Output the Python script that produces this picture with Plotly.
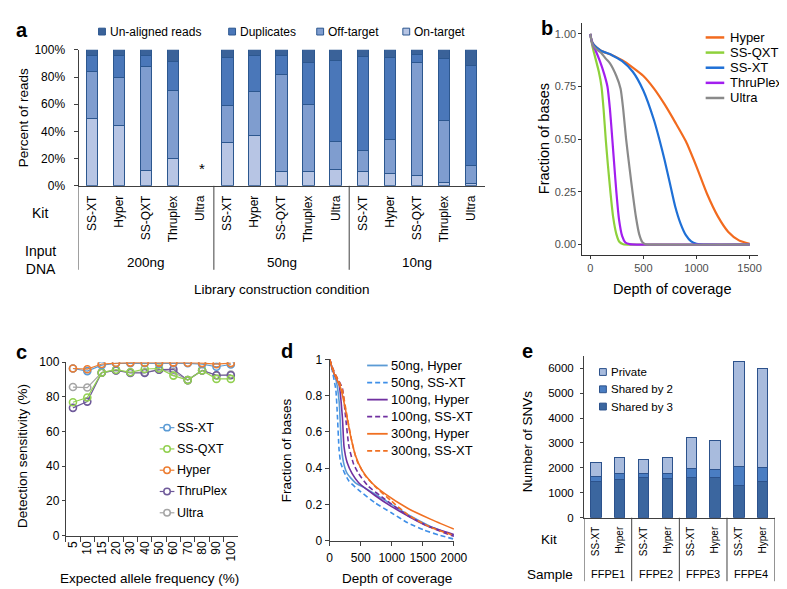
import plotly.graph_objects as go

W, H = 787, 589
FONT = "Liberation Sans, Arial, sans-serif"
AX = "#404040"


def fx(x):
    return x / W


def fy(y):
    return 1 - y / H


# ---------------- Panel a data ----------------
kits_a = ["SS-XT", "Hyper", "SS-QXT", "Thruplex", "Ultra"]
inputs_a = ["200ng", "50ng", "10ng"]
on_target = [49.3, 44.3, 11.0, 19.9, None, 31.8, 37.1, 10.3, 10.3, 12.0, 10.5, 9.3, 7.7, 2.6, 1.9]
off_target = [35.1, 35.4, 77.0, 50.2, None, 27.3, 32.5, 71.8, 49.7, 20.5, 15.8, 25.1, 83.2, 45.7, 12.7]
duplicates = [11.3, 16.0, 7.7, 21.5, None, 35.4, 26.1, 13.6, 30.7, 59.4, 68.9, 60.3, 5.5, 45.5, 74.2]
unaligned = [4.3, 4.3, 4.3, 8.4, None, 5.5, 4.3, 4.3, 9.3, 8.1, 4.8, 5.3, 3.6, 6.2, 11.2]
a_series = ["Un-aligned reads", "Duplicates", "Off-target", "On-target"]
a_colors = ["#3A6299", "#4A77B9", "#7F9DCF", "#B7C5E4"]

# ---------------- Panel b data ----------------
b_names = ["Hyper", "SS-QXT", "SS-XT", "ThruPlex", "Ultra"]
b_colors = ["#F26B1F", "#8ED13B", "#1F70D6", "#A21EEF", "#8A8A8A"]
b_hyper_x = [0, 10, 30, 60, 100, 200, 300, 400, 500, 600, 700, 800, 900, 1000, 1100, 1200, 1300, 1400, 1500]
b_hyper_y = [1.0, 0.97, 0.95, 0.935, 0.92, 0.9, 0.875, 0.84, 0.80, 0.74, 0.665, 0.58, 0.49, 0.37, 0.24, 0.135, 0.06, 0.02, 0.004]
b_ssqxt_x = [0, 20, 50, 80, 105, 125, 145, 165, 189, 215, 245, 275, 310, 400, 1500]
b_ssqxt_y = [1.0, 0.94, 0.88, 0.82, 0.75, 0.64, 0.5, 0.38, 0.25, 0.13, 0.05, 0.012, 0.002, 0.0, 0.0]
b_ssxt_x = [0, 10, 30, 60, 100, 200, 300, 400, 500, 600, 650, 700, 750, 800, 850, 900, 950, 1000, 1100, 1500]
b_ssxt_y = [1.0, 0.97, 0.95, 0.935, 0.92, 0.9, 0.87, 0.82, 0.73, 0.59, 0.5, 0.4, 0.29, 0.18, 0.1, 0.045, 0.015, 0.004, 0.0, 0.0]
b_thru_x = [0, 20, 50, 90, 130, 161, 185, 207, 225, 245, 270, 300, 330, 370, 450, 1500]
b_thru_y = [1.0, 0.95, 0.92, 0.87, 0.81, 0.75, 0.64, 0.5, 0.38, 0.25, 0.12, 0.04, 0.01, 0.002, 0.0, 0.0]
b_ultra_x = [0, 20, 50, 100, 150, 185, 245, 285, 310, 337, 370, 400, 430, 460, 490, 520, 600, 1500]
b_ultra_y = [1.0, 0.95, 0.93, 0.91, 0.88, 0.86, 0.80, 0.74, 0.64, 0.5, 0.36, 0.24, 0.13, 0.05, 0.012, 0.002, 0.0, 0.0]
b_x = [b_hyper_x, b_ssqxt_x, b_ssxt_x, b_thru_x, b_ultra_x]
b_y = [b_hyper_y, b_ssqxt_y, b_ssxt_y, b_thru_y, b_ultra_y]

# ---------------- Panel c data ----------------
freq_c = ["5", "10", "15", "20", "30", "40", "50", "60", "70", "80", "90", "100"]
c_names = ["SS-XT", "SS-QXT", "Hyper", "ThruPlex", "Ultra"]
c_colors = ["#5B9BD5", "#92D050", "#ED7D31", "#6F5A9A", "#A5A5A5"]
c_ssxt = [96.4, 94.9, 98.3, 99.4, 99.4, 99.4, 99.1, 99.4, 99.4, 98.9, 97.4, 98.7]
c_ssqxt = [76.9, 79.7, 94.0, 95.7, 94.2, 96.1, 96.4, 92.3, 89.7, 95.3, 90.4, 90.4]
c_hyper = [96.4, 96.0, 99.0, 99.6, 99.8, 99.7, 99.8, 99.8, 99.7, 99.5, 98.9, 99.5]
c_thru = [73.7, 77.3, 94.0, 95.3, 93.8, 93.8, 95.7, 95.9, 89.7, 95.3, 92.5, 92.5]
c_ultra = [85.7, 85.4, 94.0, 95.3, 94.2, 94.2, 95.7, 94.4, 89.7, 95.3, 92.5, 92.9]
c_vals = [c_ssxt, c_ssqxt, c_hyper, c_thru, c_ultra]

# ---------------- Panel d data ----------------
d_names = ["50ng, Hyper", "50ng, SS-XT", "100ng, Hyper", "100ng, SS-XT", "300ng, Hyper", "300ng, SS-XT"]
d_colors = ["#5B9BD5", "#3F8FE8", "#7030A0", "#7030A0", "#F07022", "#F07022"]
d_dash = ["solid", "5px,3px", "solid", "5px,3px", "solid", "5px,3px"]
d_50h_x = [0, 50, 100, 152, 194, 231, 283, 415, 572, 861, 1255, 1622, 2000]
d_50h_y = [1.0, 0.94, 0.89, 0.77, 0.5, 0.42, 0.37, 0.32, 0.29, 0.23, 0.145, 0.08, 0.03]
d_50s_x = [0, 47, 100, 126, 152, 178, 231, 310, 467, 730, 992, 1255, 1517, 1780, 2000]
d_50s_y = [1.0, 0.93, 0.83, 0.68, 0.5, 0.43, 0.38, 0.33, 0.28, 0.21, 0.155, 0.10, 0.06, 0.03, 0.01]
d_100h_x = [0, 50, 100, 152, 205, 231, 283, 362, 467, 730, 992, 1517, 2000]
d_100h_y = [1.0, 0.94, 0.9, 0.86, 0.68, 0.52, 0.43, 0.37, 0.32, 0.25, 0.19, 0.09, 0.035]
d_100s_x = [0, 50, 100, 150, 205, 257, 310, 388, 467, 625, 887, 1255, 1622, 2000]
d_100s_y = [1.0, 0.95, 0.91, 0.88, 0.84, 0.68, 0.52, 0.42, 0.37, 0.30, 0.23, 0.14, 0.075, 0.025]
d_300h_x = [0, 50, 100, 178, 257, 336, 415, 520, 677, 887, 1255, 1622, 2000]
d_300h_y = [1.0, 0.94, 0.9, 0.84, 0.72, 0.58, 0.47, 0.39, 0.32, 0.26, 0.18, 0.12, 0.065]
d_300s_x = [0, 50, 100, 150, 205, 283, 362, 441, 572, 730, 992, 1255, 1622, 2000]
d_300s_y = [1.0, 0.95, 0.91, 0.88, 0.83, 0.68, 0.54, 0.44, 0.36, 0.30, 0.22, 0.145, 0.075, 0.03]
d_x = [d_50h_x, d_50s_x, d_100h_x, d_100s_x, d_300h_x, d_300s_x]
d_y = [d_50h_y, d_50s_y, d_100h_y, d_100s_y, d_300h_y, d_300s_y]

# ---------------- Panel e data ----------------
samples_e = ["FFPE1", "FFPE2", "FFPE3", "FFPE4"]
kits_e = ["SS-XT", "Hyper"]
shared3 = [1435, 1526, 1604, 1565, 1604, 1604, 1304, 1474]
shared2 = [235, 235, 183, 222, 379, 326, 757, 548]
private = [547, 652, 548, 613, 1239, 1174, 4226, 3952]
e_series = ["Private", "Shared by 2", "Shared by 3"]
e_colors = ["#A8BBDD", "#4A7DC2", "#3B669F"]

cat_a = [f"{i} {k}" for i in inputs_a for k in kits_a]
cat_e = [f"{s} {k}" for s in samples_e for k in kits_e]

fig = go.Figure()

# ---- a bars (bottom to top) ----
for name, vals, col in zip(a_series[::-1], [on_target, off_target, duplicates, unaligned], a_colors[::-1]):
    fig.add_trace(go.Bar(x=cat_a, y=vals, name=name, width=0.42,
                         marker=dict(color=col, line=dict(color="#2C578F", width=1)),
                         xaxis="x", yaxis="y"))

# ---- b lines ----
for name, xs, ys, col in zip(b_names, b_x, b_y, b_colors):
    fig.add_trace(go.Scatter(x=xs, y=ys, name=name, mode="lines",
                             line=dict(color=col, width=2.2, shape="spline", smoothing=0.6),
                             xaxis="x2", yaxis="y2"))

# ---- c lines ----
order_c = [4, 3, 1, 0, 2]
for i in order_c:
    fig.add_trace(go.Scatter(x=freq_c, y=c_vals[i], name=c_names[i], mode="lines+markers",
                             line=dict(color=c_colors[i], width=1.2),
                             marker=dict(symbol="circle-open", size=7, color=c_colors[i],
                                         line=dict(width=1.6, color=c_colors[i])),
                             xaxis="x3", yaxis="y3"))

# ---- d lines ----
for name, xs, ys, col, ds in zip(d_names, d_x, d_y, d_colors, d_dash):
    fig.add_trace(go.Scatter(x=xs, y=ys, name=name, mode="lines",
                             line=dict(color=col, width=1.6, dash=ds, shape="spline", smoothing=0.5),
                             xaxis="x4", yaxis="y4"))

# ---- e bars ----
for name, vals, col in zip(e_series[::-1], [shared3, shared2, private], e_colors[::-1]):
    fig.add_trace(go.Bar(x=cat_e, y=vals, name=name, width=0.43,
                         marker=dict(color=col, line=dict(color="#2C528C", width=1)),
                         xaxis="x5", yaxis="y5"))

tf = dict(family=FONT, size=12, color="#000")
common_x = dict(showgrid=False, zeroline=False, showline=True, linecolor=AX, linewidth=1, tickcolor=AX)

layout = dict(
    width=W, height=H, margin=dict(l=0, r=0, t=0, b=0),
    paper_bgcolor="white", plot_bgcolor="rgba(0,0,0,0)",
    showlegend=False, barmode="stack", font=dict(family=FONT, color="#000"),
    xaxis=dict(common_x, domain=[fx(69), fx(484)], anchor="y", type="category",
               range=[-0.5, 14.5], tickvals=cat_a, ticktext=kits_a * 3, tickangle=-90,
               ticks="", tickfont=tf, ticklabelstandoff=4),
    yaxis=dict(common_x, domain=[fy(175), fy(35.7)], anchor="x", range=[0, 100], dtick=20,
               ticksuffix="%", ticks="outside", ticklen=4, tickfont=tf, ticklabelstandoff=6),
    xaxis2=dict(common_x, domain=[fx(584), fx(763)], anchor="y2", range=[-75, 1575],
                tickvals=[0, 500, 1000, 1500], ticks="outside", ticklen=3, linecolor="#333",
                tickcolor="#333", tickfont=dict(family=FONT, size=11, color="#4D4D4D")),
    yaxis2=dict(common_x, domain=[fy(246), fy(8.5)], anchor="x2", range=[-0.05, 1.05],
                tickvals=[0, 0.25, 0.5, 0.75, 1.0], ticktext=["0.00", "0.25", "0.50", "0.75", "1.00"],
                ticks="outside", ticklen=3, linecolor="#333", tickcolor="#333",
                tickfont=dict(family=FONT, size=11, color="#4D4D4D")),
    xaxis3=dict(common_x, domain=[fx(56), fx(232)], anchor="y3", type="category",
                categoryorder="array", categoryarray=freq_c, range=[-0.5, 11.5],
                tickson="boundaries", ticks="outside", ticklen=5, tickangle=-90, tickfont=tf),
    yaxis3=dict(common_x, domain=[fy(533.3), fy(355.7)], anchor="x3", range=[0, 100], dtick=20,
                ticks="outside", ticklen=3, tickfont=tf),
    xaxis4=dict(common_x, domain=[fx(325.7), fx(452.7)], anchor="y4", range=[0, 2000], dtick=500,
                ticks="outside", ticklen=4, tickfont=tf, ticklabelstandoff=2),
    yaxis4=dict(common_x, domain=[fy(538.7), fy(352.7)], anchor="x4", range=[0, 1], dtick=0.2,
                ticks="outside", ticklen=4, tickfont=tf),
    xaxis5=dict(common_x, domain=[fx(585.7), fx(780.5)], anchor="y5", type="category",
                range=[-0.5, 7.5], tickvals=cat_e, ticktext=kits_e * 4, tickangle=-90, ticks="",
                tickfont=dict(family=FONT, size=10, color="#000"), ticklabelstandoff=4),
    yaxis5=dict(common_x, domain=[fy(515), fy(349)], anchor="x5", range=[0, 6500],
                tickvals=[0, 1000, 2000, 3000, 4000, 5000, 6000], ticks="outside", ticklen=3,
                tickfont=dict(family=FONT, size=11.5, color="#000"), ticklabelstandoff=4),
)

annotations = []
shapes = []


def ann(text, x, y, size=13.5, xanchor="center", angle=0, color="#000", bold=False, xref="paper"):
    annotations.append(dict(text=f"<b>{text}</b>" if bold else text, x=x if xref != "paper" else fx(x),
                            y=fy(y), xref=xref, yref="paper", showarrow=False, xanchor=xanchor,
                            yanchor="middle", textangle=angle,
                            font=dict(family=FONT, size=size, color=color)))


def vline(x, y0, y1, xref="paper", color=AX, width=1):
    shapes.append(dict(type="line", xref=xref, yref="paper", x0=x if xref != "paper" else fx(x),
                       x1=x if xref != "paper" else fx(x), y0=fy(y0), y1=fy(y1),
                       line=dict(color=color, width=width)))


def hline(x0, x1, y, color, width=2, dash="solid"):
    shapes.append(dict(type="line", xref="paper", yref="paper", x0=fx(x0), x1=fx(x1), y0=fy(y), y1=fy(y),
                       line=dict(color=color, width=width, dash=dash)))


def rect(cx, cy, s, fill, border):
    shapes.append(dict(type="rect", xref="paper", yref="paper", x0=fx(cx - s / 2), x1=fx(cx + s / 2),
                       y0=fy(cy + s / 2), y1=fy(cy - s / 2), fillcolor=fill, line=dict(color=border, width=1)))


def circ(cx, cy, r, color):
    shapes.append(dict(type="circle", xref="paper", yref="paper", x0=fx(cx - r), x1=fx(cx + r),
                       y0=fy(cy + r), y1=fy(cy - r), fillcolor="white", line=dict(color=color, width=1.5)))


# panel letters
ann("a", 11, 15, 20, bold=True)
ann("b", 548, 13, 20, bold=True)
ann("c", 11, 345, 20, bold=True)
ann("d", 282, 344, 20, bold=True)
ann("e", 528, 344, 20, bold=True)

# ---- panel a text ----
ann("Percent of reads", 13, 105, 13.5, angle=-90)
ann("*", 195, 157, 15)
ann("Kit", 30, 203, 14)
ann("Input<br>DNA", 30, 251, 14)
for k, inp in enumerate(inputs_a):
    ann(inp, 2 + 5 * k, 254, 13.5, xref="x")
ann("Library construction condition", 277, 281, 13.5)
for xb in [-0.5, 4.5, 9.5]:
    vline(xb, 175, 261, xref="x")
leg_a_x = [93, 226, 316, 404]
for name, col, lx in zip(a_series, a_colors, leg_a_x):
    rect(lx, 17, 7, col, "#2C578F")
    ann(name, lx + 6, 17, 12, xanchor="left")

# ---- panel b text ----
ann("Fraction of bases", 545, 127, 14.5, angle=-90)
ann("Depth of coverage", 676, 281, 14.5)
for k, (name, col) in enumerate(zip(b_names, b_colors)):
    yy = 23 + k * 15.5
    hline(710, 729, yy, col, 2.5)
    ann(name, 733, yy, 13, xanchor="left")

# ---- panel c text ----
ann("Detection sensitivity (%)", 12, 452, 13.5, angle=-90)
ann("Expected allele frequency (%)", 142, 577, 13.5)
for k, (name, col) in enumerate(zip(c_names, c_colors)):
    yy = 422.7 + k * 21.8
    hline(152, 167, yy, col, 1.2)
    circ(159.5, yy, 3.3, col)
    ann(name, 168, yy, 12.5, xanchor="left")

# ---- panel d text ----
ann("Fraction of bases", 281, 446, 13.5, angle=-90)
ann("Depth of coverage", 395, 577, 13.5)
for k, (name, col, ds) in enumerate(zip(d_names, d_colors, d_dash)):
    yy = 359 + k * 17.5
    hline(364, 385, yy, col, 1.8, ds)
    ann(name, 386, yy, 13, xanchor="left")

# ---- panel e text ----
ann("Number of SNVs", 528, 437, 13.5, angle=-90)
ann("Kit", 550, 537, 13.5)
ann("Sample", 551, 573, 13.5)
for k, s in enumerate(samples_e):
    ann(s, 0.5 + 2 * k, 573, 11, xref="x5")
for xb in [-0.5, 1.5, 3.5, 5.5, 7.5]:
    vline(xb, 515, 580, xref="x5")
for k, (name, col) in enumerate(zip(e_series, e_colors)):
    yy = 365.7 + k * 17.7
    rect(605, yy, 7, col, "#2C528C")
    ann(name, 611, yy, 11.5, xanchor="left")

layout["annotations"] = annotations
layout["shapes"] = shapes
fig.update_layout(**layout)
fig.write_html("out.html")
